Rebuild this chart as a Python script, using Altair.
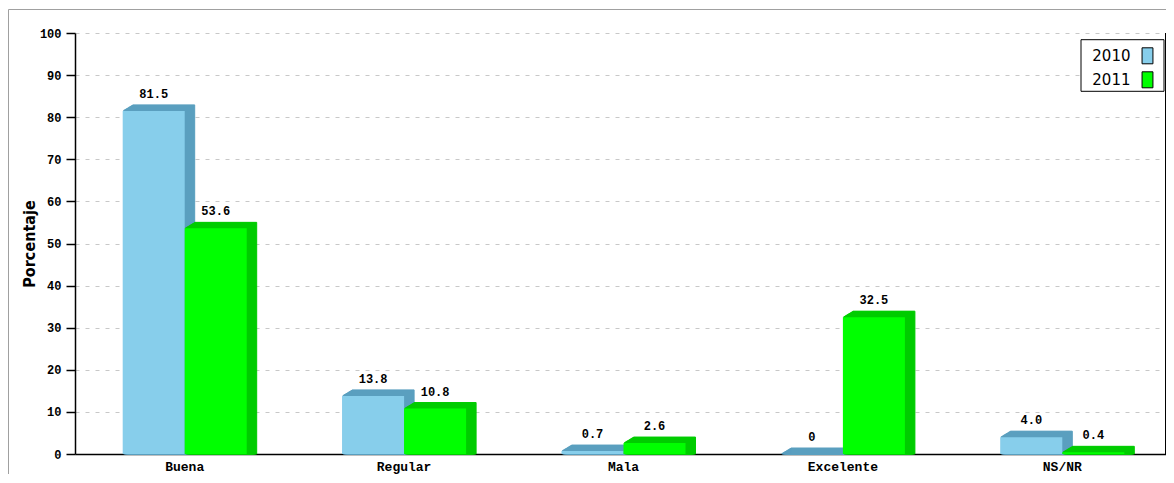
import altair as alt
import pandas as pd

# ---- data ----
categories = ["Buena", "Regular", "Mala", "Excelente", "NS/NR"]
years = ["2010", "2011"]
values_2010 = [81.5, 13.8, 0.7, 0.0, 4.0]
values_2011 = [53.6, 10.8, 2.6, 32.5, 0.4]
labels_2010 = ["81.5", "13.8", "0.7", "0", "4.0"]
labels_2011 = ["53.6", "10.8", "2.6", "32.5", "0.4"]
y_ticks = list(range(0, 101, 10))

front_colors = ["#87CEEB", "#00FF00"]
side_colors = ["#5A9FBF", "#00CC00"]

rows = []
for yr, vals, labs in [("2010", values_2010, labels_2010), ("2011", values_2011, labels_2011)]:
    for c, v, l in zip(categories, vals, labs):
        rows.append({"category": c, "year": yr, "value": v, "label": l})
df = pd.DataFrame(rows)

W, H = 1091, 421
X_RANGE = 1097
BAR_W = 62
HALF = 31
DEPTH_X = 10
DEPTH_Y = 6
STEPS = 10

x_enc = alt.X(
    "category:N",
    sort=categories,
    scale=alt.Scale(paddingInner=0, paddingOuter=0, range=[0, X_RANGE]),
    axis=alt.Axis(
        title=None, labelAngle=0, ticks=False, grid=False,
        domainColor="black", domainWidth=1.5,
        labelFont="Liberation Mono", labelFontWeight="bold", labelFontSize=13,
        labelColor="black", labelPadding=6,
    ),
)
y_enc = alt.Y(
    "value:Q",
    stack=None,
    scale=alt.Scale(domain=[0, 100], nice=False),
    axis=alt.Axis(
        values=y_ticks, title="Porcentaje", grid=True, gridDash=[4, 6],
        gridColor="#C8C8C8", domainColor="black", domainWidth=1.5,
        tickColor="black", tickSize=9, tickWidth=1.5,
        labelFont="Liberation Mono", labelFontWeight="bold", labelFontSize=12,
        labelColor="black", labelPadding=5,
        titleFont="DejaVu Sans Condensed", titleFontWeight="bold", titleFontSize=16,
        titleColor="black", titlePadding=2,
    ),
)

color_enc = alt.Color(
    "year:N",
    scale=alt.Scale(domain=years, range=front_colors),
    legend=alt.Legend(
        title=None, orient="none", legendX=1064, legendY=14.3,
        symbolType="M-0.68,-1H0.68V1H-0.68Z", symbolSize=256,
        symbolStrokeColor="black", symbolStrokeWidth=1, symbolOpacity=1,
        labelAlign="right", labelOffset={"expr": "-25.5"}, labelFont="DejaVu Sans",
        labelFontSize=15, labelColor="black", rowPadding=3, padding=0,
        labelLimit=200,
    ),
)

base = alt.Chart(df)
one = alt.Data(values=[{"k": 0}])

layers = []

# outer frame
layers.append(
    alt.Chart(one).mark_rect(fill="transparent", stroke="#A0A0A0", strokeWidth=1).encode(
        x=alt.value(-66.5), x2=alt.value(W + 30), y=alt.value(-23.5), y2=alt.value(H + 80)
    )
)

for i, yr in enumerate(years):
    off = -HALF if i == 0 else HALF
    sub = base.transform_filter(alt.datum.year == yr)
    for k in range(1, STEPS + 1):
        dx = off + DEPTH_X * k / STEPS
        dy = -DEPTH_Y * k / STEPS
        layers.append(
            sub.mark_bar(
                width=BAR_W, xOffset=dx, yOffset=dy, y2Offset=dy,
                color=side_colors[i], stroke=side_colors[i], strokeWidth=1,
            ).encode(x=x_enc, y=y_enc)
        )
    layers.append(
        sub.mark_bar(width=BAR_W, xOffset=off).encode(x=x_enc, y=y_enc, color=color_enc)
    )

# value labels
for i, yr in enumerate(years):
    off = -HALF if i == 0 else HALF
    sub = base.transform_filter(alt.datum.year == yr)
    layers.append(
        sub.mark_text(
            dx=off, dy=-13, baseline="alphabetic", align="center",
            font="Liberation Mono", fontWeight="bold", fontSize=12, color="black",
        ).encode(x=x_enc, y=y_enc, text="label:N")
    )

# right border of plot area
layers.append(
    alt.Chart(one).mark_rule(color="black", strokeWidth=1).encode(
        x=alt.value(W - 0.5), y=alt.value(0), y2=alt.value(H)
    )
)

# legend box
layers.append(
    alt.Chart(one).mark_rect(fill="white", stroke="black", strokeWidth=1).encode(
        x=alt.value(1006), x2=alt.value(1089), y=alt.value(6.7), y2=alt.value(58.3)
    )
)

chart = alt.layer(*layers).properties(
    width=W, height=H,
    padding={"left": 67, "top": 25, "right": 0, "bottom": 20},
    autosize=alt.AutoSizeParams(type="none"),
).configure_view(stroke="transparent")

chart.save("out.html", embed_options={"renderer": "svg", "actions": False})
